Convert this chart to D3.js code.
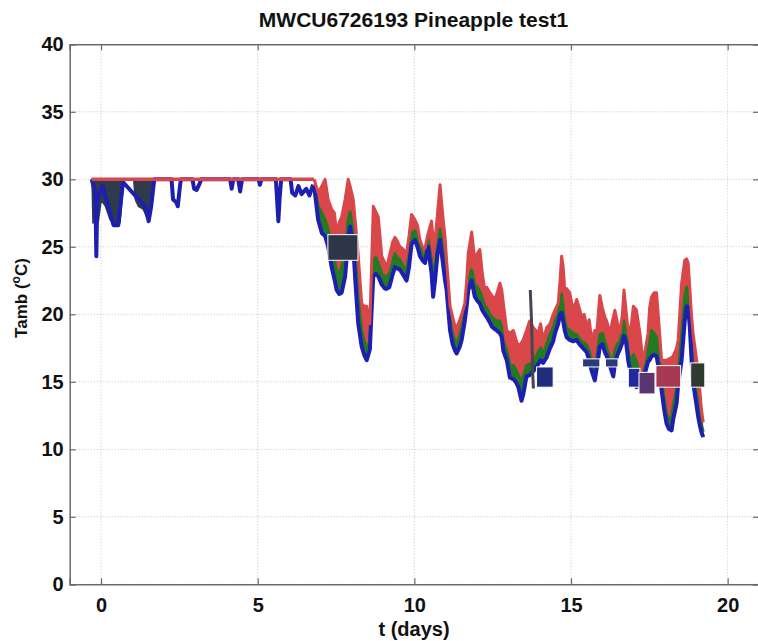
<!DOCTYPE html>
<html><head><meta charset="utf-8">
<script src="https://cdn.jsdelivr.net/npm/d3@7"></script>
<style>
html,body{margin:0;padding:0;background:#fff;}
svg{display:block;font-family:"Liberation Sans",Arial,sans-serif;}
</style></head>
<body>
<svg id="c" width="758" height="641"></svg>
<script>
// ---------- DATA ----------
const titleText = "MWCU6726193 Pineapple test1";
const xTicks = [0, 5, 10, 15, 20];
const yTicks = [0, 5, 10, 15, 20, 25, 30, 35, 40];

// early period: setpoint line and lower (blue) sensor dips
const earlyRedDays = [-0.3, 6.8];
const earlyRed = [30, 30];
const earlyBlueDays = [-0.30,-0.18,-0.15,-0.12,0.05,0.40,0.55,0.70,1.40,1.52,1.60,1.70,2.25,2.30,2.40,2.45,2.52,2.55,2.92,2.97,3.05,3.15,3.20,4.12,4.17,4.22,4.38,4.44,4.50,5.03,5.07,5.12,5.58,5.62,5.66,5.70,5.75,6.05,6.10,6.20,6.30,6.40,6.55,6.65,6.77];
const earlyBlue = [30.0,29.0,24.3,28.5,29.5,26.6,26.6,29.8,28.0,26.9,28.0,30.0,30.0,28.5,28.3,28.0,29.5,30.0,30.0,29.3,29.2,29.7,30.0,30.0,29.3,30.0,30.0,29.1,30.0,30.0,29.6,30.0,30.0,28.5,26.9,28.6,30.0,30.0,29.0,28.8,29.5,28.9,29.3,28.8,29.6];
// dark (charcoal) sensor dips at the start
const darkDays = [-0.28,-0.25,-0.10,0.00,0.15,0.30,0.45,0.60,0.70,0.75,1.05,1.10,1.20,1.35,1.45,1.55,1.62,1.65];
const darkVals = [30.0,26.8,26.8,28.5,28.0,27.0,26.7,26.8,29.5,30.0,30.0,28.5,28.0,27.8,27.3,27.5,29.5,30.0];

// main period: three sensor groups read on a common time grid
const days = [6.80,6.93,7.05,7.15,7.25,7.36,7.45,7.52,7.60,7.68,7.79,7.89,7.95,8.05,8.13,8.21,8.32,8.40,8.48,8.58,8.64,8.69,8.77,8.85,8.96,9.06,9.12,9.20,9.30,9.38,9.46,9.54,9.65,9.75,9.83,9.91,10.02,10.10,10.18,10.26,10.34,10.44,10.55,10.60,10.66,10.74,10.82,10.90,10.98,11.03,11.14,11.22,11.30,11.35,11.45,11.51,11.61,11.67,11.72,11.83,11.93,12.01,12.09,12.17,12.25,12.31,12.41,12.47,12.57,12.63,12.73,12.79,12.84,12.95,13.05,13.16,13.26,13.32,13.42,13.47,13.58,13.68,13.80,13.95,14.03,14.11,14.22,14.33,14.43,14.49,14.59,14.65,14.70,14.75,14.80,14.86,14.96,15.07,15.18,15.26,15.34,15.42,15.50,15.58,15.66,15.76,15.82,15.92,16.00,16.08,16.14,16.24,16.35,16.40,16.48,16.56,16.64,16.69,16.76,16.83,16.93,16.99,17.09,17.20,17.30,17.38,17.46,17.51,17.57,17.65,17.73,17.80,17.89,17.97,18.05,18.13,18.21,18.26,18.37,18.42,18.53,18.63,18.69,18.74,18.79,18.85,18.90,19.01,19.06,19.11,19.16,19.22];
const red = [30.0,29.0,29.5,30.0,28.5,27.8,27.5,26.0,26.8,27.2,28.5,30.0,29.5,28.5,26.5,24.3,20.8,20.6,20.6,19.3,24.0,28.0,27.6,27.2,24.3,23.8,23.5,24.3,25.3,25.7,25.4,25.0,24.8,24.5,25.8,27.4,27.0,26.6,25.5,25.0,24.9,26.0,26.9,25.5,25.5,27.5,29.6,27.5,25.7,24.0,20.6,19.8,19.1,19.0,19.6,20.0,20.8,22.5,24.5,26.1,24.0,24.5,24.8,23.0,21.8,22.0,21.6,21.4,21.1,21.5,22.3,21.8,20.8,18.8,18.6,18.8,18.0,17.6,17.9,18.1,18.8,19.5,19.0,18.6,19.3,18.1,19.0,19.3,20.0,20.3,20.8,22.5,24.3,23.5,21.8,21.9,21.6,20.3,21.1,20.5,19.8,20.0,19.1,19.6,18.1,18.8,18.6,21.4,20.5,19.8,19.5,18.6,19.8,20.3,19.4,18.6,20.0,21.8,20.2,18.6,19.3,20.6,20.3,18.6,16.4,17.5,18.6,20.5,21.3,21.6,21.6,19.5,16.6,16.6,16.6,16.7,16.8,16.9,17.5,18.1,22.3,24.0,24.1,23.8,22.0,19.8,18.5,16.6,15.5,14.4,13.0,12.0];
const green = [29.6,28.0,27.5,27.0,26.3,25.0,24.0,23.2,23.0,23.5,24.5,27.0,27.6,26.0,24.0,21.0,18.8,18.0,17.5,18.0,21.5,24.0,24.2,23.8,23.0,22.8,22.8,23.0,23.8,24.5,24.2,24.0,23.5,23.4,24.3,26.0,26.2,25.6,25.0,24.4,24.3,25.5,24.0,22.5,23.5,25.0,26.3,25.0,23.5,22.5,19.5,18.5,18.0,17.8,18.5,19.0,20.0,21.2,22.5,23.3,22.2,22.0,21.7,21.2,20.6,20.5,20.0,19.8,19.6,19.5,19.5,19.0,18.0,17.3,16.3,16.2,15.8,15.5,15.0,15.3,16.2,16.3,16.5,17.2,17.5,17.0,17.8,18.5,19.0,19.5,20.0,20.8,21.5,20.5,19.5,19.0,18.8,18.6,18.5,18.2,18.0,17.9,17.7,17.3,16.5,16.0,16.8,18.5,18.6,18.0,17.5,16.8,16.6,17.3,17.8,18.0,18.8,19.5,18.6,17.2,16.3,17.0,16.5,15.5,15.6,16.2,17.5,18.3,18.8,18.6,18.3,17.0,15.3,13.8,12.6,12.2,12.4,13.2,14.5,15.6,18.5,21.3,22.0,21.8,20.5,17.5,16.0,14.0,13.3,12.5,11.8,11.3];
const blue = [29.5,27.0,26.0,25.8,25.0,23.5,22.6,21.8,21.5,21.6,22.8,25.5,26.5,25.0,22.0,19.3,17.6,17.0,16.6,17.4,20.5,22.8,23.0,22.8,22.2,21.9,21.9,22.0,22.9,23.5,23.4,23.3,22.9,22.5,23.5,25.2,25.5,25.0,24.3,24.0,23.8,25.0,23.0,21.3,22.5,24.5,25.5,24.0,22.5,21.8,18.8,17.8,17.3,17.1,17.6,18.1,19.5,20.6,21.8,22.5,21.3,21.0,20.8,20.3,20.0,19.8,19.4,19.1,18.9,18.8,18.6,18.3,17.3,16.6,15.3,15.2,14.9,14.6,13.6,14.0,15.4,15.5,15.8,16.3,16.6,16.4,16.8,17.5,18.0,18.6,19.3,20.0,20.1,19.5,18.8,18.3,18.1,18.0,18.1,17.8,17.6,17.4,17.2,16.6,15.8,15.1,16.0,17.6,17.8,17.2,16.9,16.2,15.4,16.3,17.0,17.4,17.9,18.4,17.9,16.5,15.4,15.8,14.6,14.8,15.0,15.8,16.5,16.6,16.9,17.0,16.9,16.0,14.4,13.0,11.9,11.5,11.4,12.2,13.4,14.8,16.6,19.5,20.6,20.5,19.1,16.5,14.9,13.2,12.4,11.8,11.3,10.9];

// spurious spike and labelled blocks in the scanned trace (start day, end day, top °C, bottom °C)
const spikeDays = [13.70, 13.74, 13.78, 13.80];
const spikeVals = [21.8, 19.5, 15.5, 14.5];
const blockStart = [7.24, 13.90, 15.37, 16.10, 16.83, 17.17, 17.71, 18.82];
const blockEnd   = [8.20, 14.43, 15.92, 16.50, 17.20, 17.68, 18.50, 19.27];
const blockTop   = [25.9, 16.1, 16.7, 16.7, 16.0, 15.7, 16.2, 16.4];
const blockBot   = [24.0, 14.6, 16.1, 16.1, 14.6, 14.1, 14.6, 14.6];

// ---------- STYLE ----------
const blockColors = ["#2e3546","#1f2d7a","#2a3a78","#2a3a78","#23289a","#5a356e","#a63a52","#2f3a30"];
const C = {red:"#d9474b", green:"#237a22", blue:"#1c1fb0", dark:"#2f3a4b", axis:"#6a6a6a", grid:"#c4c4c4"};

const svg = d3.select("#c");
const L = 69.7, R = 759, T = 44.3, B = 584.3;
const x = d3.scaleLinear().domain([-1, 21]).range([L, R]);
const y = d3.scaleLinear().domain([0, 40]).range([B, T]);

svg.append("defs").append("clipPath").attr("id","clip")
  .append("rect").attr("x",L).attr("y",T).attr("width",R-L).attr("height",B-T);

// grid
const g = svg.append("g");
g.selectAll(".vg").data(xTicks).enter().append("line")
  .attr("x1",d=>x(d)).attr("x2",d=>x(d)).attr("y1",T).attr("y2",B)
  .attr("stroke",C.grid).attr("stroke-width",1).attr("stroke-dasharray","1,2");
g.selectAll(".hg").data(yTicks).enter().append("line")
  .attr("y1",d=>y(d)).attr("y2",d=>y(d)).attr("x1",L).attr("x2",R)
  .attr("stroke",C.grid).attr("stroke-width",1).attr("stroke-dasharray","1,2");

const plot = svg.append("g").attr("clip-path","url(#clip)");

// early dark area
const darkRows = darkDays.map((t,i)=>({t, v:darkVals[i]}));
plot.append("path").datum(darkRows)
  .attr("d", d3.area().x(d=>x(d.t)).y0(d=>y(30)).y1(d=>y(d.v)))
  .attr("fill",C.dark).attr("stroke",C.dark).attr("stroke-width",2);

// early blue
const ebRows = earlyBlueDays.map((t,i)=>({t, v:earlyBlue[i]}));
plot.append("path").datum(ebRows)
  .attr("d", d3.line().x(d=>x(d.t)).y(d=>y(d.v)))
  .attr("fill","none").attr("stroke",C.blue).attr("stroke-width",4).attr("stroke-linejoin","round");

// main rows
const rows = days.map((t,i)=>({t, r:red[i], g:green[i], b:blue[i]}));
plot.append("path").datum(rows)
  .attr("d", d3.area().x(d=>x(d.t)).y0(d=>y(d.g)).y1(d=>y(d.r)))
  .attr("fill",C.red);
plot.append("path").datum(rows)
  .attr("d", d3.area().x(d=>x(d.t)).y0(d=>y(d.b)).y1(d=>y(d.g)))
  .attr("fill",C.green);
plot.append("path").datum(rows)
  .attr("d", d3.line().x(d=>x(d.t)).y(d=>y(d.g)))
  .attr("fill","none").attr("stroke",C.green).attr("stroke-width",3).attr("stroke-linejoin","round");
plot.append("path").datum(rows)
  .attr("d", d3.line().x(d=>x(d.t)).y(d=>y(d.b)))
  .attr("fill","none").attr("stroke",C.blue).attr("stroke-width",4).attr("stroke-linejoin","round");
plot.append("path").datum(rows)
  .attr("d", d3.line().x(d=>x(d.t)).y(d=>y(d.r)))
  .attr("fill","none").attr("stroke",C.red).attr("stroke-width",3).attr("stroke-linejoin","round");

// early red setpoint line
plot.append("path").datum(earlyRedDays.map((t,i)=>({t, v:earlyRed[i]})))
  .attr("d", d3.line().x(d=>x(d.t)).y(d=>y(d.v)))
  .attr("fill","none").attr("stroke",C.red).attr("stroke-width",3.5);

// spike
plot.append("path").datum(spikeDays.map((t,i)=>({t, v:spikeVals[i]})))
  .attr("d", d3.line().x(d=>x(d.t)).y(d=>y(d.v)))
  .attr("fill","none").attr("stroke","#4a4350").attr("stroke-width",3);

// blocks
plot.selectAll(".blk").data(blockStart.map((s,i)=>i)).enter().append("rect")
  .attr("x",i=>x(blockStart[i])).attr("width",i=>x(blockEnd[i])-x(blockStart[i]))
  .attr("y",i=>y(blockTop[i])).attr("height",i=>y(blockBot[i])-y(blockTop[i]))
  .attr("fill",i=>blockColors[i]).attr("stroke","#fff").attr("stroke-width",1);

// axes
const tickFont = g => g.selectAll("text").attr("font-size","20px").attr("font-weight","bold")
  .attr("fill","#111").attr("font-family","'Liberation Sans',Arial,sans-serif");
const ax = svg.append("g");
ax.append("g").attr("transform",`translate(0,${B})`)
  .call(d3.axisBottom(x).tickValues(xTicks).tickSize(-6).tickPadding(14).tickFormat(d3.format("d")))
  .call(tickFont);
ax.append("g").attr("transform",`translate(0,${T})`)
  .call(d3.axisTop(x).tickValues(xTicks).tickSize(-6).tickFormat(""));
ax.append("g").attr("transform",`translate(${L},0)`)
  .call(d3.axisLeft(y).tickValues(yTicks).tickSize(-6).tickPadding(6).tickFormat(d3.format("d")))
  .call(tickFont);
ax.append("g").attr("transform",`translate(${R},0)`)
  .call(d3.axisRight(y).tickValues(yTicks).tickSize(-6).tickFormat(""));
ax.selectAll(".domain").attr("stroke",C.axis).attr("stroke-width",1.5);
ax.selectAll(".tick line").attr("stroke",C.axis).attr("stroke-width",1.2);

// title and labels
svg.append("text").attr("x",413.5).attr("y",26.5).attr("text-anchor","middle")
  .attr("font-size","21px").attr("font-weight","bold").attr("fill","#111").text(titleText);
svg.append("text").attr("x",414).attr("y",636).attr("text-anchor","middle")
  .attr("font-size","20px").attr("font-weight","bold").attr("fill","#111").text("t (days)");
const yl = svg.append("text").attr("transform","translate(27,298) rotate(-90)").attr("text-anchor","middle")
  .attr("font-size","17px").attr("font-weight","bold").attr("fill","#111");
yl.append("tspan").text("Tamb (");
yl.append("tspan").attr("font-size","12px").attr("dy","-7").text("o");
yl.append("tspan").attr("dy","7").text("C)");
</script>
</body></html>
